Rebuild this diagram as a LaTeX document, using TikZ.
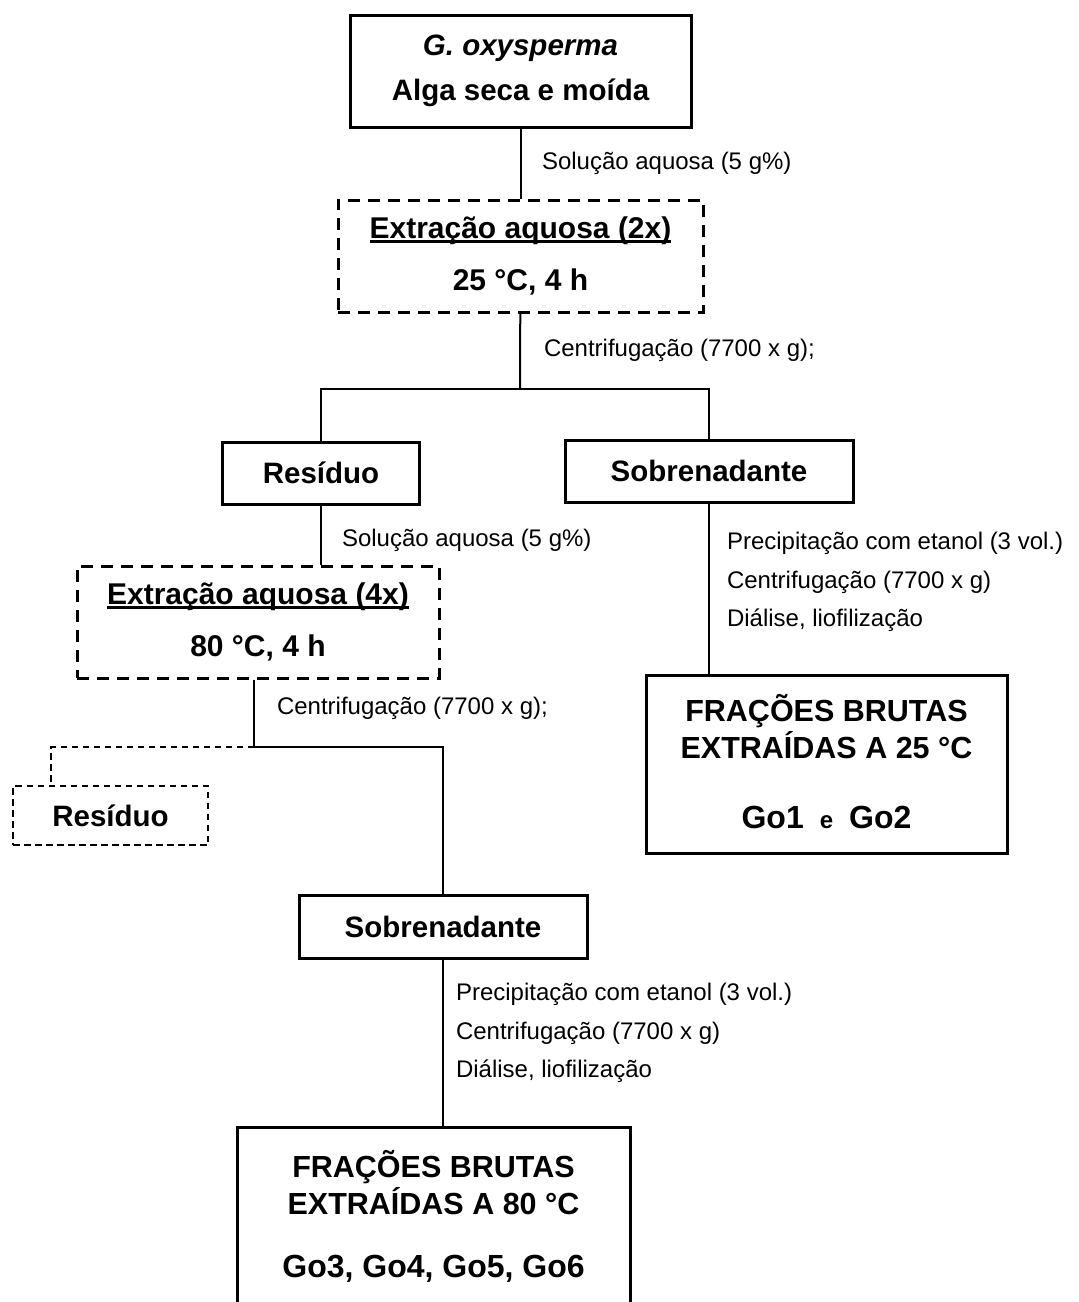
\documentclass[tikz,border=0pt]{standalone}
\usepackage{fontspec}
\setmainfont{Liberation Sans}
\usetikzlibrary{positioning}
\newcommand{\sublinha}[1]{\setbox0=\hbox{#1}\rlap{\rule[-4.5pt]{\wd0}{3pt}}\box0}

\begin{document}
\begin{tikzpicture}[x=1pt, y=-1pt, line width=2pt,
  box/.style={draw, line width=3pt, inner sep=0pt, align=center, font=\fontsize{29.5}{45}\selectfont\bfseries},
  etapa/.style={box, dash pattern=on 12pt off 8pt, font=\fontsize{30}{52}\selectfont\bfseries},
  descarte/.style={box, line width=1.5pt, dash pattern=on 6.5pt off 4.5pt},
  fracao/.style={box, font=\fontsize{30.5}{37}\selectfont\bfseries},
  nota/.style={anchor=west, inner sep=0pt, align=left, font=\fontsize{24}{38.5}\selectfont},
  tracejado/.style={line width=1.5pt, dash pattern=on 6.5pt off 4.5pt}]
\useasboundingbox (0,0) rectangle (1079,1302);
\clip (0,0) rectangle (1079,1302);
% ---- extracao a 25 C
\node[box, minimum width=341pt, minimum height=112pt] (alga) at (520.5,71) {\textit{G. oxysperma}\\Alga seca e moída};
\node[etapa, minimum width=365pt, minimum height=112pt] (ext1) at (520.5,256) {\sublinha{Extração aquosa (2x)}\\25 °C, 4 h};
\node[box, minimum width=197pt, minimum height=62pt] (res1) at (321,473) {Resíduo};
\node[box, minimum width=288pt, minimum height=62pt] (sob1) at (709,471) {Sobrenadante};
\node[fracao, minimum width=361pt, minimum height=178pt] (fin25) at (826.5,764) {FRAÇÕES BRUTAS\\EXTRAÍDAS A 25 °C\\[33pt]{\fontsize{32}{37}\selectfont Go1\hspace{16pt}{\fontsize{24}{37}\selectfont e}\hspace{16pt}Go2\rule[-6pt]{0pt}{0pt}}};
\node[nota] (lab1) at (541,163) {Solução aquosa (5 g\%)};
\node[nota] (lab2) at (543,350) {Centrifugação (7700 x g);};
\node[nota] (lab5) at (726,582) {Precipitação com etanol (3 vol.)\\Centrifugação (7700 x g)\\Diálise, liofilização};
\coordinate (split1) at (520,389);
\draw (alga) -- (ext1);
\draw (ext1) -- (split1);
\draw (res1) |- (split1) -| (sob1);
\draw (sob1) -- (sob1 |- fin25.north);
% ---- extracao a 80 C
\node[etapa, minimum width=362pt, minimum height=112pt] (ext2) at (258,622) {\sublinha{Extração aquosa (4x)}\\80 °C, 4 h};
\node[descarte, minimum width=195pt, minimum height=59pt] (res2) at (110.5,815.5) {Resíduo};
\node[box, minimum width=288pt, minimum height=63pt] (sob2) at (443,926.5) {Sobrenadante};
\node[fracao, minimum width=393pt, minimum height=180pt] (fin80) at (433.5,1217) {FRAÇÕES BRUTAS\\EXTRAÍDAS A 80 °C\\[26pt]{\fontsize{32}{37}\selectfont Go3, Go4, Go5, Go6\rule[-6pt]{0pt}{0pt}}};
\node[nota] (lab3) at (341,540) {Solução aquosa (5 g\%)};
\node[nota] (lab4) at (276,708) {Centrifugação (7700 x g);};
\node[nota] (lab6) at (455,1033) {Precipitação com etanol (3 vol.)\\Centrifugação (7700 x g)\\Diálise, liofilização};
\coordinate (split2) at (254,747);
\coordinate (resdrop) at (51,747);
\draw (res1) -- (res1 |- ext2.north);
\draw (ext2.south -| split2) -- (split2) -| (sob2);
\draw[tracejado] (split2) -- (resdrop) -- (resdrop |- res2.north);
\draw (sob2) -- (sob2 |- fin80.north);
\end{tikzpicture}
\end{document}
